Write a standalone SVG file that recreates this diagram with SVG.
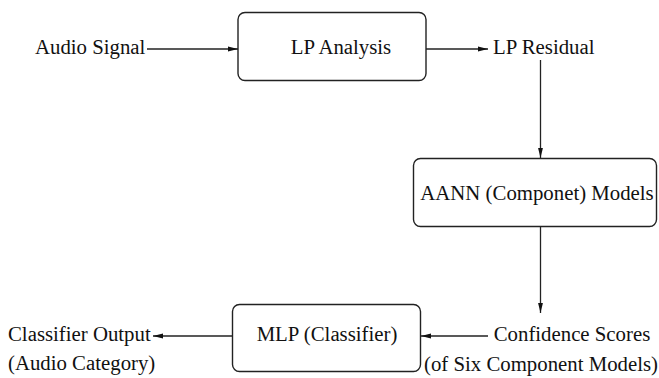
<svg xmlns="http://www.w3.org/2000/svg" width="659" height="378" viewBox="0 0 659 378">
  <style>
    .box { fill: #fff; stroke: #222; stroke-width: 1.4; }
    .lbl { font-family: "Liberation Serif", "Times New Roman", serif; font-size: 20.8px; fill: #111; }
    .wire { fill: none; stroke: #222; stroke-width: 1.3; marker-end: url(#head); }
  </style>
  <defs>
    <marker id="head" viewBox="0 0 10 6" refX="10" refY="3" markerWidth="10" markerHeight="6" markerUnits="userSpaceOnUse" orient="auto">
      <path d="M0,0.6 L10,3 L0,5.4 Z" fill="#111"/>
    </marker>
  </defs>
  <rect width="659" height="378" fill="#fff"/>

  <g id="audio-signal"><text class="lbl" x="35" y="54">Audio Signal</text></g>
  <g id="lp-analysis">
    <rect class="box" x="238" y="12.5" width="188" height="68" rx="7"/>
    <text class="lbl" x="341" y="54" text-anchor="middle">LP Analysis</text>
  </g>
  <g id="lp-residual"><text class="lbl" x="493" y="54">LP Residual</text></g>
  <g id="aann-models">
    <rect class="box" x="413.5" y="158.5" width="243" height="68" rx="7"/>
    <text class="lbl" x="537" y="200" text-anchor="middle">AANN (Componet) Models</text>
  </g>
  <g id="confidence-scores">
    <text class="lbl" x="572" y="341" text-anchor="middle">Confidence Scores</text>
    <text class="lbl" x="541" y="371" text-anchor="middle">(of Six Component Models)</text>
  </g>
  <g id="mlp-classifier">
    <rect class="box" x="232.5" y="304.5" width="188" height="67" rx="7"/>
    <text class="lbl" x="327" y="341" text-anchor="middle">MLP (Classifier)</text>
  </g>
  <g id="classifier-output">
    <text class="lbl" x="8" y="341">Classifier Output</text>
    <text class="lbl" x="8" y="370">(Audio Category)</text>
  </g>

  <g id="connectors">
    <line class="wire" x1="147" y1="49" x2="238" y2="49"/>
    <line class="wire" x1="426" y1="49" x2="488" y2="49"/>
    <line class="wire" x1="540.5" y1="60" x2="540.5" y2="158"/>
    <line class="wire" x1="540.5" y1="227" x2="540.5" y2="313"/>
    <line class="wire" x1="488" y1="336" x2="421" y2="336"/>
    <line class="wire" x1="232" y1="336" x2="153" y2="336"/>
  </g>
</svg>
